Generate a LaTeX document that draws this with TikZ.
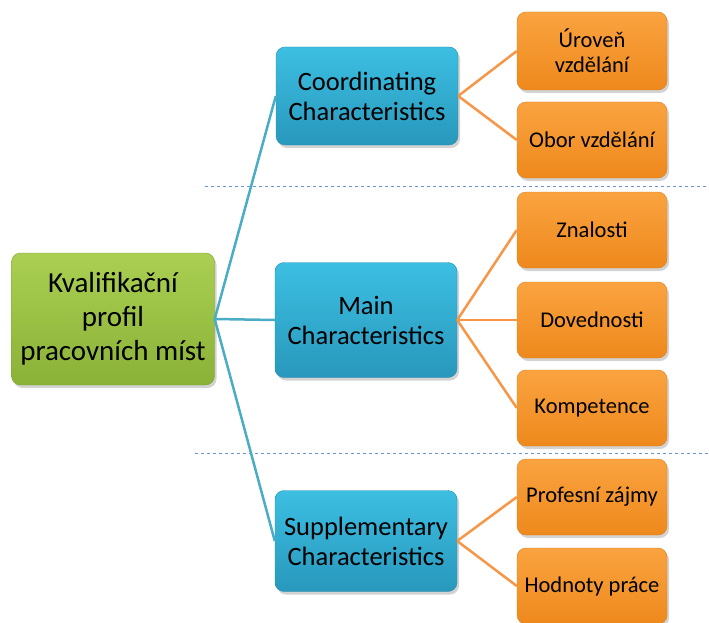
\documentclass[tikz,border=0pt]{standalone}
\usepackage{fontspec}
\setmainfont{Carlito}
\usetikzlibrary{shadows}

\definecolor{roottop}{HTML}{AACF52}
\definecolor{rootbot}{HTML}{8AB237}
\definecolor{rootline}{HTML}{7FA33A}
\definecolor{midtop}{HTML}{3CBFE2}
\definecolor{midbot}{HTML}{2898BC}
\definecolor{midline}{HTML}{2A8FB0}
\definecolor{leaftop}{HTML}{FAA340}
\definecolor{leafbot}{HTML}{EE891C}
\definecolor{leafline}{HTML}{D8801E}
\definecolor{midedge}{HTML}{4BACC6}
\definecolor{leafedge}{HTML}{F79646}
\definecolor{divcol}{HTML}{6A93D4}

\begin{document}
\begin{tikzpicture}[x=1pt,y=-1pt,
	box/.style={rounded corners=9pt, align=center, inner sep=2pt,
		drop shadow={opacity=0.35,shadow xshift=2pt,shadow yshift=-3pt}},
	rootbox/.style={box, draw=rootline, top color=roottop, bottom color=rootbot,
		minimum width=203pt, minimum height=132pt, font=\fontsize{29}{34}\selectfont},
	midbox/.style={box, draw=midline, top color=midtop, bottom color=midbot,
		minimum width=182pt, font=\fontsize{26.5}{30}\selectfont},
	leafbox/.style={box, draw=leafline, top color=leaftop, bottom color=leafbot,
		minimum width=150pt, minimum height=76pt, font=\fontsize{22.5}{25}\selectfont},
	midlink/.style={draw=midedge, line width=2.5pt},
	leaflink/.style={draw=leafedge, line width=2.5pt},
	divider/.style={draw=divcol, dashed, line width=0.8pt}]
	\useasboundingbox (0,0) rectangle (709,623);

	% dashed separators
	\coordinate (d1a) at (205,186);
	\coordinate (d1b) at (709,186);
	\coordinate (d2a) at (195,453);
	\coordinate (d2b) at (709,453);
	\draw[divider] (d1a) -- (d1b);
	\draw[divider] (d2a) -- (d2b);

	% root
	\node[rootbox] (root) at (113,319) {Kvalifikační\\profil\\pracovních míst};

	% middle level
	\node[midbox, minimum height=98pt] (coord) at (367,96) {Coordinating\\Characteristics};
	\node[midbox, minimum height=115pt] (main) at (366,320) {Main\\Characteristics};
	\node[midbox, minimum height=101pt] (supp) at (366,541) {Supplementary\\Characteristics};

	% leaves
	\node[leafbox, minimum height=78pt] (level) at (592,51) {Úroveň\\vzdělání};
	\node[leafbox] (field) at (592,140) {Obor vzdělání};
	\node[leafbox] (know) at (592,230) {Znalosti};
	\node[leafbox] (skill) at (592,320) {Dovednosti};
	\node[leafbox] (comp) at (592,408) {Kompetence};
	\node[leafbox] (interest) at (592,497) {Profesní zájmy};
	\node[leafbox] (values) at (592,586) {Hodnoty práce};

	% connectors
	\draw[midlink] (root.east) -- (coord.west);
	\draw[midlink] (root.east) -- (main.west);
	\draw[midlink] (root.east) -- (supp.west);

	\draw[leaflink] (coord.east) -- (level.west);
	\draw[leaflink] (coord.east) -- (field.west);
	\draw[leaflink] (main.east) -- (know.west);
	\draw[leaflink] (main.east) -- (skill.west);
	\draw[leaflink] (main.east) -- (comp.west);
	\draw[leaflink] (supp.east) -- (interest.west);
	\draw[leaflink] (supp.east) -- (values.west);
\end{tikzpicture}
\end{document}
